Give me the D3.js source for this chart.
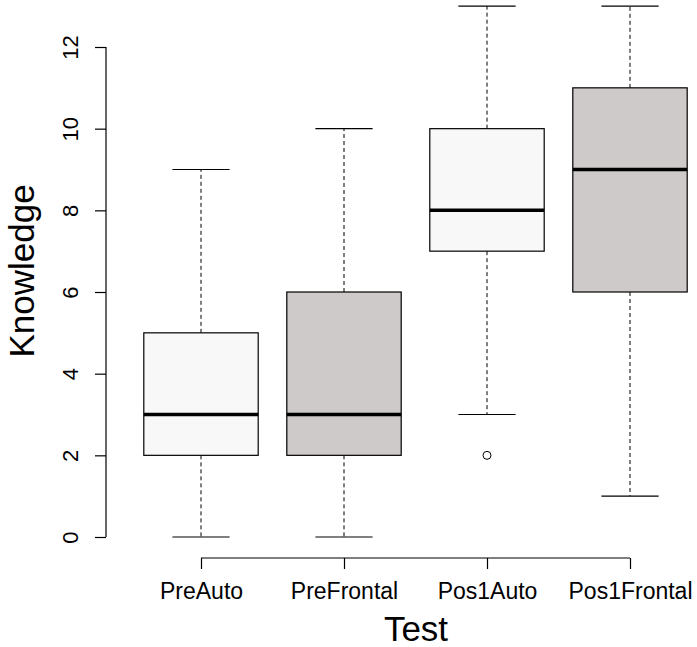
<!DOCTYPE html>
<html><head><meta charset="utf-8">
<script src="https://cdn.jsdelivr.net/npm/d3@7"></script>
<style>body{margin:0;background:#fff}svg{display:block}text{font-family:"Liberation Sans",Arial,sans-serif;fill:#000}</style>
</head><body>
<svg id="c" width="697" height="647"></svg>
<script>
const categories = ["PreAuto","PreFrontal","Pos1Auto","Pos1Frontal"];
const mins    = [0, 0, 3, 1];
const q1s     = [2, 2, 7, 6];
const medians = [3, 3, 8, 9];
const q3s     = [5, 6, 10, 11];
const maxs    = [9, 10, 13, 13];
const outliers = [[], [], [2], []];
const fills = ["#F8F8F8","#CDCAC9","#F8F8F8","#CDCAC9"];
const yTicks = [0,2,4,6,8,10,12];

const svg = d3.select("#c");
const x = d3.scaleLinear().domain([1,4]).range([201,630]);
const y = d3.scaleLinear().domain([0,12]).range([537,47]);
const unit = x(2)-x(1);
const hw = 0.4*unit, sw = 0.2*unit;

const data = categories.map((c,i)=>({c,i:i+1,min:mins[i],q1:q1s[i],med:medians[i],q3:q3s[i],max:maxs[i],out:outliers[i],fill:fills[i]}));

const g = svg.append("g");
data.forEach(d=>{
  const cx = x(d.i);
  g.append("line").attr("x1",cx).attr("x2",cx).attr("y1",y(d.q1)).attr("y2",y(d.min))
    .attr("stroke","#000").attr("stroke-width",1).attr("stroke-dasharray","4,3");
  g.append("line").attr("x1",cx).attr("x2",cx).attr("y1",y(d.q3)).attr("y2",y(d.max))
    .attr("stroke","#000").attr("stroke-width",1).attr("stroke-dasharray","4,3");
  g.append("line").attr("x1",cx-sw).attr("x2",cx+sw).attr("y1",y(d.min)).attr("y2",y(d.min)).attr("stroke","#000").attr("stroke-width",1.2);
  g.append("line").attr("x1",cx-sw).attr("x2",cx+sw).attr("y1",y(d.max)).attr("y2",y(d.max)).attr("stroke","#000").attr("stroke-width",1.2);
  g.append("rect").attr("x",cx-hw).attr("width",2*hw).attr("y",y(d.q3)).attr("height",y(d.q1)-y(d.q3))
    .attr("fill",d.fill).attr("stroke","#000").attr("stroke-width",1.2);
  g.append("line").attr("x1",cx-hw).attr("x2",cx+hw).attr("y1",y(d.med)).attr("y2",y(d.med)).attr("stroke","#000").attr("stroke-width",3.5);
  d.out.forEach(o=>{
    g.append("circle").attr("cx",cx).attr("cy",y(o)).attr("r",4).attr("fill","none").attr("stroke","#000").attr("stroke-width",1);
  });
});

const ya = svg.append("g").attr("transform","translate(106,0)")
  .call(d3.axisLeft(y).tickValues(yTicks).tickSize(11).tickPadding(0).tickFormat(d3.format("d")));
ya.select(".domain").attr("d",`M0,${y(0)}V${y(12)}`).attr("stroke-width",1.2);
ya.selectAll(".tick line").attr("stroke-width",1.2);
ya.selectAll(".tick text").attr("transform","rotate(-90)").attr("x",0).attr("y",-28)
  .attr("dy","0").attr("text-anchor","middle").style("font-size","22px");

const xa = svg.append("g").attr("transform","translate(0,558)")
  .call(d3.axisBottom(x).tickValues([1,2,3,4]).tickSize(11).tickPadding(0).tickFormat((d,i)=>categories[i]));
xa.select(".domain").attr("d",`M${x(1)},0H${x(4)}`).attr("stroke-width",1.2);
xa.selectAll(".tick line").attr("stroke-width",1.2);
xa.selectAll(".tick text").attr("y",41).attr("dy","0").style("font-size","23px");

svg.append("text").attr("x",416).attr("y",641).attr("text-anchor","middle").style("font-size","35px").text("Test");
svg.append("text").attr("transform","translate(34,271) rotate(-90)").attr("text-anchor","middle").style("font-size","35px").text("Knowledge");
</script>
</body></html>
